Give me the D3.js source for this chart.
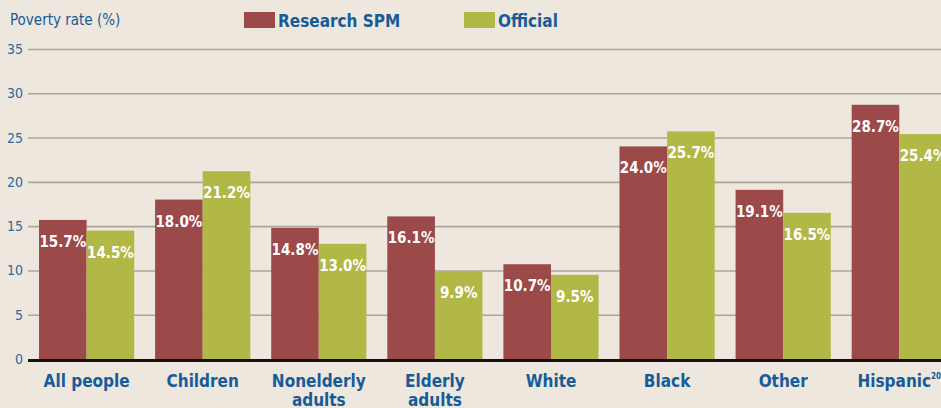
<!DOCTYPE html>
<html>
<head>
<meta charset="utf-8">
<script src="https://cdn.jsdelivr.net/npm/d3@7"></script>
<style>
  body { margin: 0; background: #ede7dd; overflow: hidden; }
  svg { display: block; }
</style>
</head>
<body>
<script>
// poverty rates, research SPM vs official

var categories = ["All people", "Children", "Nonelderly adults", "Elderly adults", "White", "Black", "Other", "Hispanic"];
var spmValues = [15.7, 18.0, 14.8, 16.1, 10.7, 24.0, 19.1, 28.7];
var officialValues = [14.5, 21.2, 13.0, 9.9, 9.5, 25.7, 16.5, 25.4];
var seriesNames = ["Research SPM", "Official"];
var yTicks = [0, 5, 10, 15, 20, 25, 30, 35];

var w = 941;
var h = 408;
var colors = ["#9b4949", "#b2b846"];
var blue = "#175b98";
var font = "'Liberation Sans Narrow', 'DejaVu Sans Condensed', sans-serif";

var svg = d3.select("body")
    .append("svg")
    .attr("width", w)
    .attr("height", h);

svg.append("rect")
    .attr("width", w)
    .attr("height", h)
    .attr("fill", "#ede7dd");

var y = d3.scaleLinear().domain([0, 35]).range([359, 49]);

var x0 = d3.scaleBand()
    .domain(categories)
    .range([27.4, 958.5])
    .paddingInner(0.18)
    .paddingOuter(0.1);

var x1 = d3.scaleBand()
    .domain(seriesNames)
    .range([0, x0.bandwidth()]);

// gridlines + tick labels
var yAxis = d3.axisLeft(y)
    .tickValues(yTicks)
    .tickSize(-(w - 28))
    .tickFormat(d3.format("d"));

var gy = svg.append("g")
    .attr("transform", "translate(28,0)")
    .call(yAxis);
gy.select(".domain").remove();
gy.selectAll(".tick line")
    .attr("stroke", function(d) { return d === 0 ? "#111" : "#aaa69e"; })
    .attr("stroke-width", function(d) { return d === 0 ? 3 : 1.6; })
    .attr("transform", function(d) { return d === 0 ? "translate(0,1)" : null; });
gy.selectAll(".tick text")
    .attr("x", -5)
    .attr("fill", "#2c6aa3")
    .style("font-family", font)
    .style("font-size", "14px");

// bars
var rows = categories.map(function(c, i) {
    return { cat: c, vals: [spmValues[i], officialValues[i]] };
});

var groups = svg.selectAll(".grp")
    .data(rows)
    .enter()
    .append("g")
    .attr("class", "grp")
    .attr("transform", function(d) { return "translate(" + x0(d.cat) + ",0)"; });

var pairs = function(d) {
    return d.vals.map(function(v, i) { return { s: seriesNames[i], v: v, i: i }; });
};

groups.selectAll("rect")
    .data(pairs)
    .enter()
    .append("rect")
    .attr("x", function(d) { return x1(d.s); })
    .attr("y", function(d) { return y(d.v); })
    .attr("width", x1.bandwidth())
    .attr("height", function(d) { return y(0) - y(d.v); })
    .attr("fill", function(d) { return colors[d.i]; });

groups.selectAll(".val")
    .data(pairs)
    .enter()
    .append("text")
    .attr("class", "val")
    .attr("x", function(d) { return x1(d.s) + x1.bandwidth() / 2; })
    .attr("y", function(d) { return y(d.v) + 27; })
    .attr("text-anchor", "middle")
    .attr("fill", "#fff")
    .style("font-family", font)
    .style("font-weight", "bold")
    .style("font-size", "15px")
    .text(function(d) { return d.v.toFixed(1) + "%"; });

// category labels, only the two "adults" ones wrap
var catLabels = svg.selectAll(".cat")
    .data(categories)
    .enter()
    .append("text")
    .attr("class", "cat")
    .attr("x", function(d) { return x0(d) + x0.bandwidth() / 2; })
    .attr("y", 387)
    .attr("text-anchor", "middle")
    .attr("fill", blue)
    .style("font-family", font)
    .style("font-weight", "bold")
    .style("font-size", "17px");

catLabels.each(function(d) {
    var t = d3.select(this);
    if (/adults$/.test(d)) {
        var words = d.split(" ");
        t.append("tspan").attr("x", t.attr("x")).text(words[0]);
        t.append("tspan").attr("x", t.attr("x")).attr("dy", 19).text(words[1]);
    } else {
        t.text(d);
    }
    if (d === "Hispanic") {
        t.append("tspan")
            .attr("dy", -8)
            .style("font-size", "8px")
            .text("20");
    }
});

// title
svg.append("text")
    .attr("x", 10)
    .attr("y", 25)
    .attr("fill", blue)
    .style("font-family", font)
    .style("font-size", "15px")
    .text("Poverty rate (%)");

// legend
var legendX = [244, 464];
var legend = svg.selectAll(".leg")
    .data(seriesNames)
    .enter()
    .append("g")
    .attr("class", "leg")
    .attr("transform", function(d, i) { return "translate(" + legendX[i] + ",12)"; });

legend.append("rect")
    .attr("width", 31)
    .attr("height", 16)
    .attr("fill", function(d, i) { return colors[i]; });

legend.append("text")
    .attr("x", 34)
    .attr("y", 15)
    .attr("fill", blue)
    .style("font-family", font)
    .style("font-weight", "bold")
    .style("font-size", "17px")
    .text(function(d) { return d; });
</script>
</body>
</html>
